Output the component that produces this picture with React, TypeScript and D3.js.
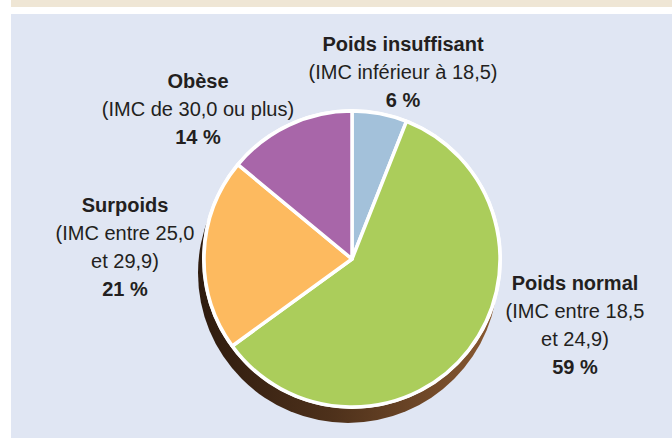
import React from "react";
import * as d3 from "d3";

const categories = ["Poids insuffisant", "Poids normal", "Surpoids", "Obèse"];
const values = [6, 59, 21, 14];
const subLabels = [
  ["(IMC inférieur à 18,5)"],
  ["(IMC entre 18,5", "et 24,9)"],
  ["(IMC entre 25,0", "et 29,9)"],
  ["(IMC de 30,0 ou plus)"],
];
const colors = ["#a3c1da", "#abcd5b", "#fdba5f", "#a866a9"];

// layout (label anchor: center x, first baseline y)
const labelLayout = [
  { x: 403, y: 51 },
  { x: 575, y: 290 },
  { x: 125, y: 212 },
  { x: 198, y: 87.5 },
];

const W = 672;
const H = 438;
const cx = 352;
const cy = 259;
const R = 148;
const lineH = 28;

export default function App() {
  const pie = d3
    .pie<number>()
    .sort(null)
    .value((d) => d)
    .startAngle(0)
    .endAngle(2 * Math.PI);
  const arcs = pie(values);
  const arc = d3.arc<d3.PieArcDatum<number>>().innerRadius(0).outerRadius(R);

  const fontFamily = "'Liberation Sans', Arial, Helvetica, sans-serif";
  const textColor = "#231f20";

  return (
    <svg
      width={W}
      height={H}
      style={{ position: "absolute", left: 0, top: 0, display: "block" }}
    >
      <defs>
        <linearGradient id="shadowGrad" x1="0" y1="0" x2="1" y2="0">
          <stop offset="0%" stopColor="#2e1b0e" />
          <stop offset="45%" stopColor="#4e311b" />
          <stop offset="100%" stopColor="#8a5a32" />
        </linearGradient>
      </defs>
      <rect x={0} y={0} width={W} height={H} fill="#ffffff" />
      <rect x={11} y={0} width={W - 11} height={7} fill="#efe6d5" />
      <rect x={11} y={14} width={W - 11} height={H - 14} fill="#e0e6f3" />

      {/* shadow */}
      <circle cx={cx - 4} cy={cy + 14} r={R + 2} fill="url(#shadowGrad)" />

      <g transform={`translate(${cx},${cy})`}>
        <circle r={R + 2} fill="#ffffff" />
        {arcs.map((a, i) => (
          <path
            key={i}
            d={arc(a) || ""}
            fill={colors[i]}
            stroke="#ffffff"
            strokeWidth={3.5}
            strokeLinejoin="round"
          />
        ))}
      </g>

      {categories.map((c, i) => {
        const pos = labelLayout[i];
        const lines = subLabels[i];
        return (
          <text
            key={c}
            textAnchor="middle"
            fontFamily={fontFamily}
            fill={textColor}
            fontSize={20}
          >
            <tspan x={pos.x} y={pos.y} fontWeight="bold">
              {c}
            </tspan>
            {lines.map((l, j) => (
              <tspan key={j} x={pos.x} y={pos.y + lineH * (j + 1)}>
                {l}
              </tspan>
            ))}
            <tspan
              x={pos.x}
              y={pos.y + lineH * (lines.length + 1)}
              fontWeight="bold"
            >
              {`${values[i]} %`}
            </tspan>
          </text>
        );
      })}
    </svg>
  );
}
